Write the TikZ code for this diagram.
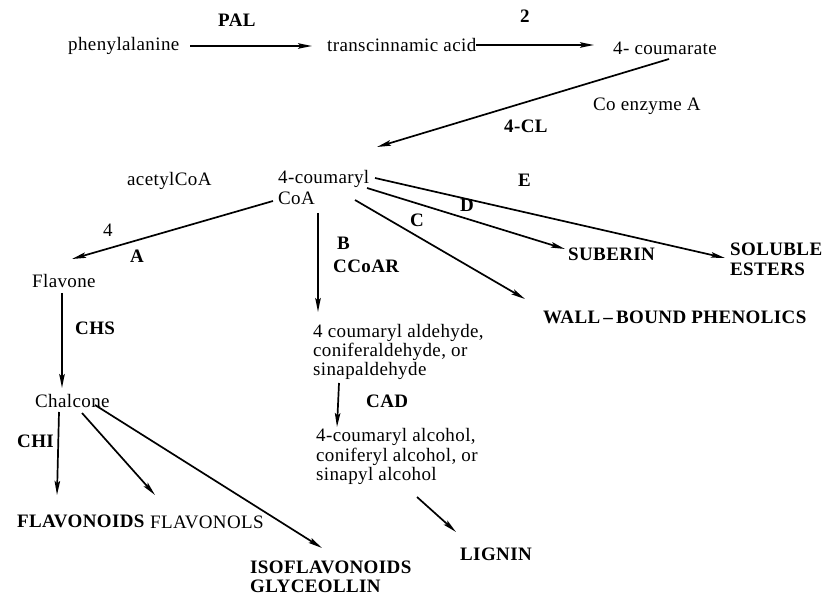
\documentclass[tikz,border=0pt]{standalone}
\usepackage{fontspec}
\setmainfont{Liberation Serif}[LetterSpace=2]
\usetikzlibrary{arrows.meta}
\begin{document}
\begin{tikzpicture}[x=1pt,y=-1pt,
  every node/.style={inner sep=0pt, anchor=base west, font=\fontsize{19}{20}\selectfont},
  lab/.style={font=\fontsize{19}{20}\selectfont\bfseries},
  arr/.style={line width=1.7pt, -{Stealth[length=14pt,width=5.5pt,inset=2.5pt]}}]
\useasboundingbox (0,0) rectangle (823,596);
% texts
\node[lab] (pal) at (218,27) {PAL};
\node (phe) at (68,51) {phenylalanine};
\node (trans) at (327,52) {transcinnamic acid};
\node[lab] (two) at (520,23) {2};
\node (coum) at (613,55) {4- coumarate};
\node (coenz) at (593,111) {Co enzyme A};
\node[lab] (cl) at (504,133) {4-CL};
\node (acet) at (127,186) {acetylCoA};
\node (cca) at (278,184) {4-coumaryl};
\node (ccb) at (278,205) {CoA};
\node[lab] (E) at (518,187) {E};
\node[lab] (D) at (460,212) {D};
\node[lab] (C) at (410,227) {C};
\node[lab] (sol1) at (730,256) {SOLUBLE};
\node[lab] (sol2) at (730,276) {ESTERS};
\node[lab] (sub) at (568,261) {SUBERIN};
\node[lab] (wall) at (543,324) {WALL\,--\,BOUND PHENOLICS};
\node (four) at (103,237) {4};
\node[lab] (A) at (130,263) {A};
\node (flavone) at (32,288) {Flavone};
\node[lab] (chs) at (75,335) {CHS};
\node[lab] (B) at (337,250) {B};
\node[lab] (ccoar) at (333,273) {CCoAR};
\node (ald1) at (313,338) {4 coumaryl aldehyde,};
\node (ald2) at (313,357) {coniferaldehyde, or};
\node (ald3) at (313,376) {sinapaldehyde};
\node[lab] (cad) at (366,408) {CAD};
\node (alc1) at (316,442) {4-coumaryl alcohol,};
\node (alc2) at (316,461) {coniferyl alcohol, or};
\node (alc3) at (316,480) {sinapyl alcohol};
\node[lab] (lig) at (460,560) {LIGNIN};
\node (chal) at (35,408) {Chalcone};
\node[lab] (chi) at (17,447) {CHI};
\node[lab] (flvd) at (17,527) {FLAVONOIDS};
\node (flvl) at (150,528) {FLAVONOLS};
\node[lab] (iso) at (250,573) {ISOFLAVONOIDS};
\node[lab] (gly) at (250,592) {GLYCEOLLIN};
% connector ends
\coordinate (p1) at (190,46);  \coordinate (p2) at (312,46);
\coordinate (t1) at (476,45);  \coordinate (t2) at (594,45);
\coordinate (c1) at (669,59);  \coordinate (c2) at (377,147);
\coordinate (e1) at (375,178); \coordinate (e2) at (725,258);
\coordinate (d1) at (367,188); \coordinate (d2) at (565,249);
\coordinate (k1) at (355,200); \coordinate (k2) at (525,299);
\coordinate (a1) at (273,201); \coordinate (a2) at (72,259);
\coordinate (h1) at (62,293);  \coordinate (h2) at (62,388);
\coordinate (b1) at (318,213); \coordinate (b2) at (318,312);
\coordinate (r1) at (339,383); \coordinate (r2) at (337,427);
\coordinate (l1) at (417,497); \coordinate (l2) at (456,532);
\coordinate (i1) at (59,412);  \coordinate (i2) at (57,495);
\coordinate (f1) at (82,413);  \coordinate (f2) at (155,495);
\coordinate (s1) at (95,405);  \coordinate (s2) at (322,548);
% connectors
\draw[arr] (p1) -- (p2);
\draw[arr] (t1) -- (t2);
\draw[arr] (c1) -- (c2);
\draw[arr] (e1) -- (e2);
\draw[arr] (d1) -- (d2);
\draw[arr] (k1) -- (k2);
\draw[arr] (a1) -- (a2);
\draw[arr] (h1) -- (h2);
\draw[arr] (b1) -- (b2);
\draw[arr] (r1) -- (r2);
\draw[arr] (l1) -- (l2);
\draw[arr] (i1) -- (i2);
\draw[arr] (f1) -- (f2);
\draw[arr] (s1) -- (s2);
\end{tikzpicture}
\end{document}
